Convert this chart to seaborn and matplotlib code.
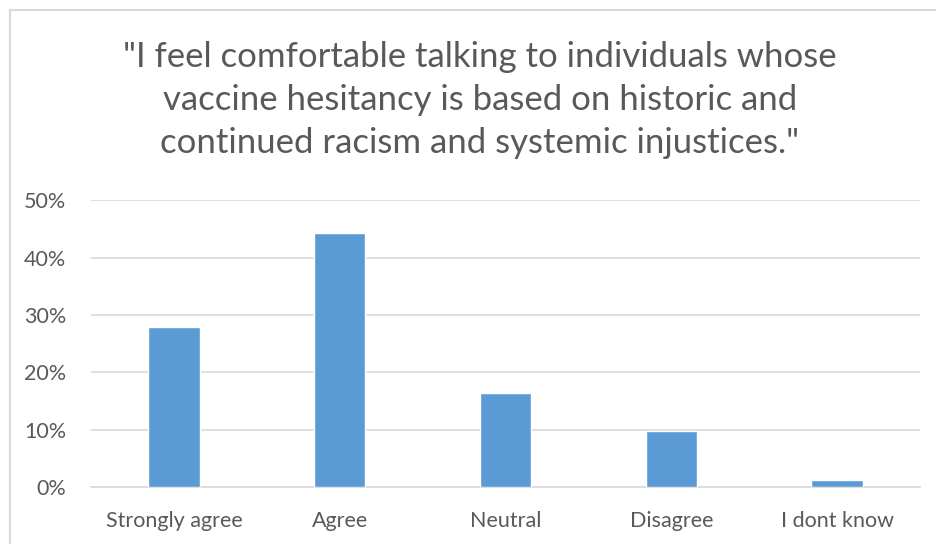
import matplotlib
matplotlib.use("Agg")
import matplotlib.pyplot as plt
import matplotlib.patches as mpatches
from matplotlib.ticker import PercentFormatter
import seaborn as sns
import pandas as pd

categories = ["Strongly agree", "Agree", "Neutral", "Disagree", "I dont know"]
shares = [27.9, 44.2, 16.3, 9.8, 1.2]
title = ('"I feel comfortable talking to individuals whose\n'
         'vaccine hesitancy is based on historic and\n'
         'continued racism and systemic injustices."')

sns.set_style("white")
plt.rcParams['font.family'] = ['Lato', 'DejaVu Sans']
grey = "#595959"

df = pd.DataFrame({"answer": categories, "share": shares})

fig = plt.figure(figsize=(9.36, 5.44), dpi=100)
ax = fig.add_axes([0.0972, 0.1048, 0.8858, 0.5272])
sns.barplot(data=df, x="answer", y="share", color="#5B9BD5", width=0.31,
            saturation=1, ax=ax, zorder=3)

ax.set_ylim(0, 50)
ax.set_xlim(-0.5, 4.5)
ax.set_yticks(range(0, 51, 10))
ax.yaxis.set_major_formatter(PercentFormatter(decimals=0))
ax.grid(axis="y", color="#d9d9d9", linewidth=1.2, zorder=0)
for s in ["top", "right", "left"]:
    ax.spines[s].set_visible(False)
ax.spines["bottom"].set_color("#d9d9d9")
ax.spines["bottom"].set_linewidth(1.2)
ax.tick_params(axis="both", length=0, labelsize=15.5, colors=grey)
ax.tick_params(axis="x", pad=17)
ax.tick_params(axis="y", pad=18)
ax.set_xlabel("")
ax.set_ylabel("")

fig.text(480 / 936, 1 - 100 / 544, title, ha="center", va="center", fontsize=25,
         color=grey, linespacing=1.42)

# chart frame
fig.patches.append(mpatches.Rectangle((10 / 936, -0.1), 1.1, 1 - 10 / 544 + 0.1,
                                      transform=fig.transFigure, fill=False,
                                      edgecolor="#d9d9d9", linewidth=1.5))

fig.savefig("out.png", dpi=100)
